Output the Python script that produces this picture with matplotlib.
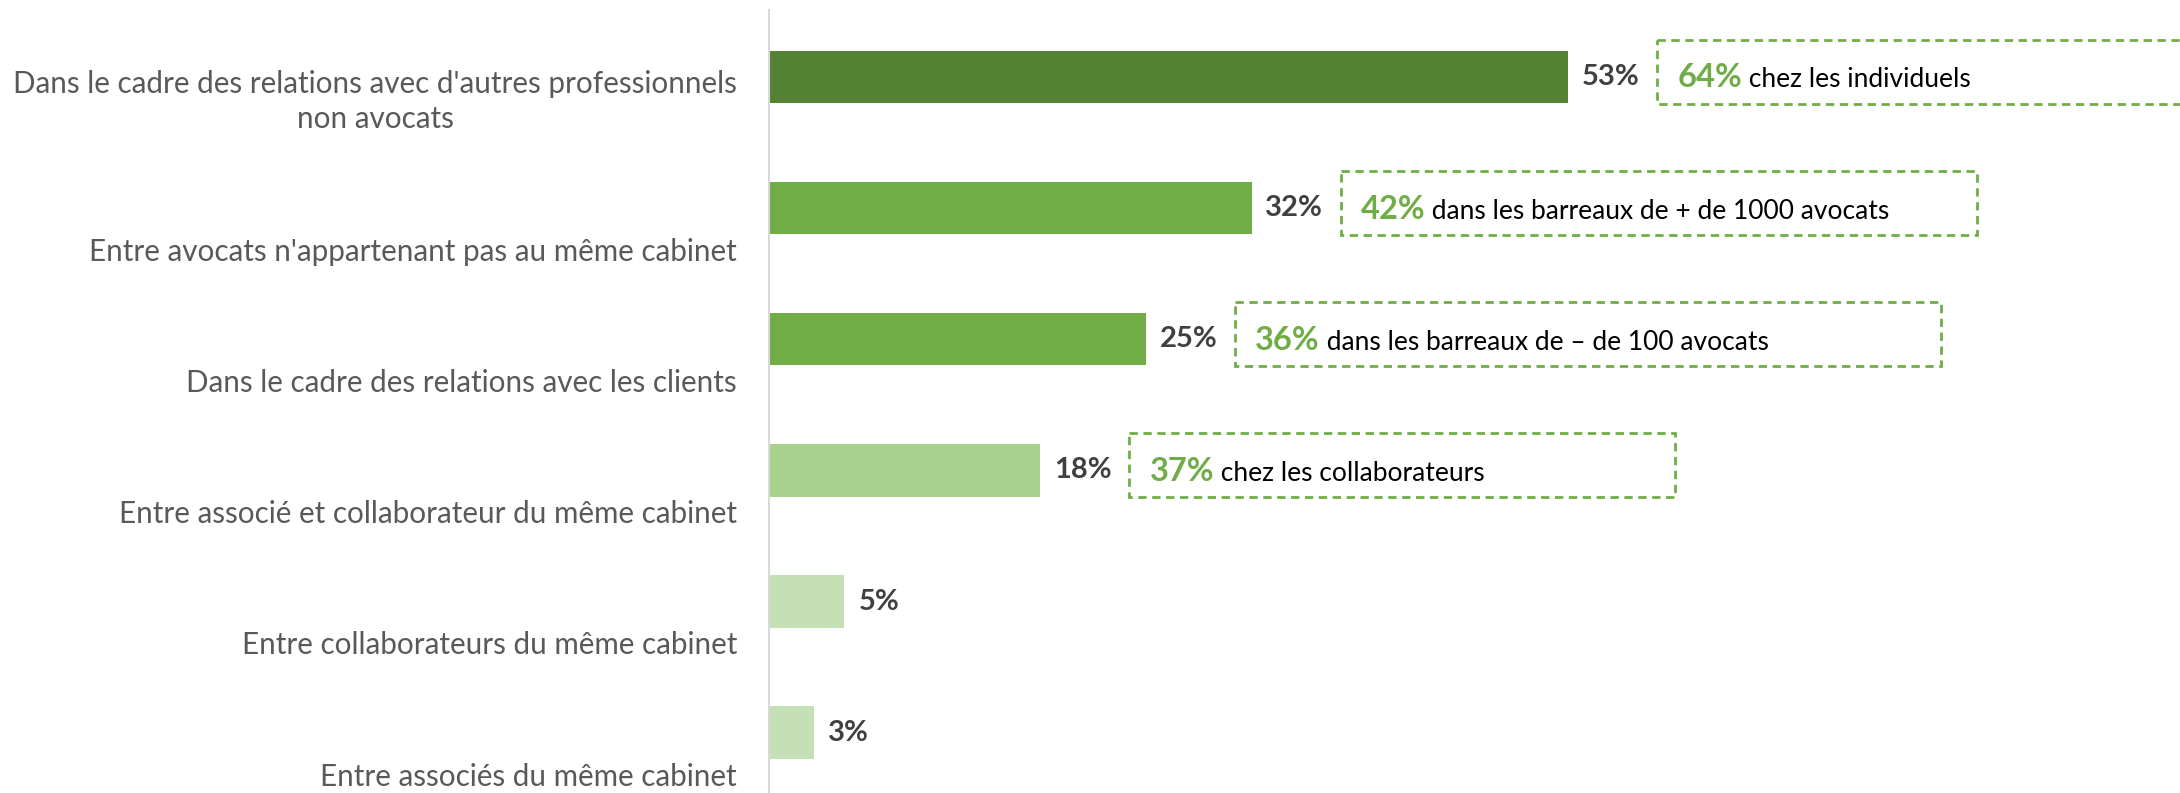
import matplotlib
matplotlib.use("Agg")
import matplotlib.pyplot as plt
from matplotlib.patches import Rectangle

plt.rcParams['font.family'] = ['Lato', 'DejaVu Sans']

categories = [
    "Dans le cadre des relations avec d'autres professionnels\nnon avocats",
    "Entre avocats n'appartenant pas au même cabinet",
    "Dans le cadre des relations avec les clients",
    "Entre associé et collaborateur du même cabinet",
    "Entre collaborateurs du même cabinet",
    "Entre associés du même cabinet",
]
values = [53, 32, 25, 18, 5, 3]
bar_colors = ["#548235", "#70AD47", "#70AD47", "#A9D18E", "#C5E0B4", "#C5E0B4"]

# callouts: row, highlighted figure, rest of text, box right edge in %
callout_rows = [0, 1, 2, 3]
callout_values = ["64%", "42%", "36%", "37%"]
callout_texts = [" chez les individuels",
                 " dans les barreaux de + de 1000 avocats",
                 " dans les barreaux de – de 100 avocats",
                 " chez les collaborateurs"]
callout_right = [100, 80.1, 77.7, 60.1]

W, H = 2180, 793
fig = plt.figure(figsize=(W / 100, H / 100), dpi=100)
ax = fig.add_axes([769 / W, 0, 1 - 769 / W, 1 - 10 / H])

y = list(range(len(values)))
ax.barh(y, values, height=0.40, color=bar_colors)
ax.set_xlim(0, (W - 769) / 15.08)
ax.set_ylim(5.46, -0.51)

for s in ["top", "right", "bottom"]:
    ax.spines[s].set_visible(False)
ax.spines["left"].set_color("#D9D9D9")
ax.spines["left"].set_linewidth(1.5)
ax.set_xticks([])
ax.set_yticks([])

# category labels sit below their bar, right aligned next to the axis
for i, lab in enumerate(categories):
    ypos = i + 0.335 if "\n" not in lab else i + 0.19
    ax.annotate(lab, xy=(0, ypos), xycoords=("axes fraction", "data"),
                xytext=(-23, 0), textcoords="offset points",
                ha="right", va="center", multialignment="center",
                linespacing=1.3, fontsize=21.3, color="#595959")

# value labels
for i, v in enumerate(values):
    ax.annotate(f"{v}%", xy=(v, i), xytext=(10, 0), textcoords="offset points",
                ha="left", va="center", fontsize=21, fontweight="bold",
                color="#404040")

# dashed callout boxes
box_h = 0.49
first_parts = []
for r, cv, ct, right in zip(callout_rows, callout_values, callout_texts, callout_right):
    left = values[r] + 5.9
    ax.add_patch(Rectangle((left, r - 0.04 - box_h / 2), right - left, box_h,
                           fill=False, edgecolor="#70AD47", linestyle=(0, (3, 2)),
                           linewidth=2, clip_on=True))
    t1 = ax.text(left + 1.33, r + 0.08, cv, ha="left", va="baseline",
                 fontsize=23.5, fontweight="bold", color="#70AD47")
    first_parts.append((t1, r, ct))

fig.canvas.draw()
renderer = fig.canvas.get_renderer()
inv = ax.transData.inverted()
for t1, r, ct in first_parts:
    bb = t1.get_window_extent(renderer)
    x_end = inv.transform((bb.x1, bb.y0))[0]
    ax.text(x_end, r + 0.08, ct, ha="left", va="baseline",
            fontsize=19, color="#000000")

fig.savefig("out.png", dpi=100)
